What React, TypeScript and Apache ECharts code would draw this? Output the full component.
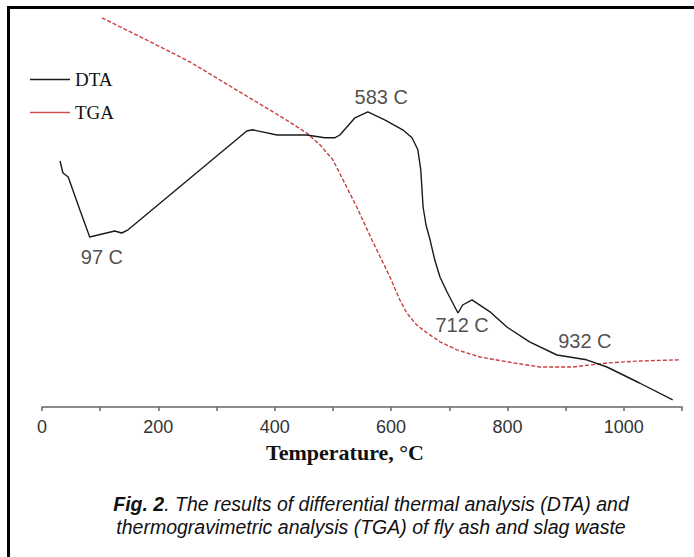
import React, { useEffect, useRef } from "react";
import * as echarts from "echarts";

// DTA curve (temperature °C, signal in arbitrary units)
const dtaTemp = [31, 36, 45, 65, 82, 125, 137, 148, 352, 362, 404, 455, 486, 503, 512, 524, 538, 560, 589, 620, 636, 646, 651, 655, 660, 667, 675, 684, 696, 706, 715, 723, 739, 770, 799, 838, 885, 936, 971, 1027, 1084];
const dtaSignal = [61.5, 58.5, 57.5, 49.3, 42.5, 44, 43.5, 44.3, 69, 69.3, 68, 68, 67.3, 67.3, 68, 70, 72.3, 73.8, 71.8, 69.3, 67.3, 64.3, 59.3, 50, 45.5, 41.8, 36.8, 32.5, 28.8, 26, 23.5, 25.5, 26.8, 23.8, 20, 16.3, 13, 11.8, 10, 6, 1.8];

// TGA curve (temperature °C, signal in arbitrary units)
const tgaTemp = [103, 186, 254, 328, 414, 455, 478, 500, 526, 541, 567, 598, 615, 627, 644, 662, 684, 713, 753, 799, 856, 912, 971, 1027, 1096];
const tgaSignal = [97.3, 91.3, 86.3, 79.8, 72.3, 68.5, 65.5, 61.8, 54.3, 50, 41.8, 32.5, 26.8, 23.5, 20.5, 18.5, 16.3, 14.3, 12.5, 11.3, 10, 10, 11, 11.5, 11.8];

// Peak annotations
const peakTemp = [103, 583, 722, 933];
const peakLabelY = [37.5, 77.5, 20.5, 16.5];
const peakLabels = ["97 C", "583 C", "712 C", "932 C"];

const xTicks = { min: 0, max: 1100, interval: 100 };

export default function App() {
  const ref = useRef<HTMLDivElement>(null);
  useEffect(() => {
    if (!ref.current) return;
    const chart = echarts.init(ref.current, null, { renderer: "svg" });
    const dta = dtaTemp.map((t, i) => [t, dtaSignal[i]]);
    const tga = tgaTemp.map((t, i) => [t, tgaSignal[i]]);
    const peaks = peakTemp.map((t, i) => [t, peakLabelY[i], peakLabels[i]]);
    chart.setOption({
      animation: false,
      backgroundColor: "#ffffff",
      grid: { left: 42, right: 12, top: 7, bottom: 150, containLabel: false },
      xAxis: {
        type: "value",
        min: xTicks.min,
        max: xTicks.max,
        interval: xTicks.interval,
        axisLine: { show: true, lineStyle: { color: "#666", width: 1.5 } },
        axisTick: { show: true, length: 4, inside: false, lineStyle: { color: "#666", width: 1.5 } },
        axisLabel: {
          margin: 11,
          fontFamily: "Liberation Sans",
          fontSize: 18,
          color: "#333",
          formatter: (v: number) => (v % 200 === 0 ? String(v) : ""),
        },
        splitLine: { show: false },
      },
      yAxis: {
        type: "value",
        min: 0,
        max: 100,
        show: false,
        splitLine: { show: false },
      },
      legend: {
        orient: "vertical",
        left: 30,
        top: 70,
        padding: 0,
        itemGap: 14,
        itemWidth: 40,
        itemHeight: 1.5,
        icon: "rect",
        textStyle: { fontFamily: "Liberation Serif", fontSize: 19, color: "#111" },
        data: ["DTA", "TGA"],
      },
      series: [
        {
          name: "DTA",
          type: "line",
          data: dta,
          showSymbol: false,
          smooth: false,
          itemStyle: { color: "#1a1a1a" },
          lineStyle: { color: "#1a1a1a", width: 1.4 },
          z: 3,
        },
        {
          name: "TGA",
          type: "line",
          data: tga,
          showSymbol: false,
          smooth: false,
          itemStyle: { color: "#d05050" },
          lineStyle: { color: "#c84040", width: 1.4, type: [4, 2] },
          z: 2,
        },
        {
          name: "peaks",
          type: "scatter",
          data: peaks,
          symbolSize: 0,
          silent: true,
          label: {
            show: true,
            position: "inside",
            formatter: (p: any) => p.value[2],
            fontFamily: "Liberation Sans",
            fontSize: 20,
            color: "#222",
          },
        },
      ],
      graphic: [
        { type: "line", shape: { x1: 8.5, y1: 6, x2: 8.5, y2: 557 }, style: { stroke: "#000", lineWidth: 3 } },
        { type: "line", shape: { x1: 7, y1: 7.5, x2: 694, y2: 7.5 }, style: { stroke: "#000", lineWidth: 3 } },
        {
          type: "text",
          x: 345,
          y: 452,
          style: {
            text: "Temperature, °C",
            align: "center",
            verticalAlign: "middle",
            fontFamily: "Liberation Serif",
            fontWeight: "bold",
            fontSize: 22,
            fill: "#111",
          },
        },
        {
          type: "text",
          x: 371,
          y: 504,
          style: {
            text: "{b|Fig. 2}. The results of differential thermal analysis (DTA) and",
            align: "center",
            verticalAlign: "middle",
            fontFamily: "Liberation Sans",
            fontStyle: "italic",
            fontSize: 19.5,
            fill: "#111",
            rich: {
              b: { fontFamily: "Liberation Sans", fontStyle: "italic", fontWeight: "bold", fontSize: 19.5, fill: "#111" },
            },
          },
        },
        {
          type: "text",
          x: 371,
          y: 527,
          style: {
            text: "thermogravimetric analysis (TGA) of fly ash and slag waste",
            align: "center",
            verticalAlign: "middle",
            fontFamily: "Liberation Sans",
            fontStyle: "italic",
            fontSize: 19.5,
            fill: "#111",
          },
        },
      ],
    });
    return () => chart.dispose();
  }, []);
  return (
    <div
      ref={ref}
      style={{ position: "fixed", left: 0, top: 0, width: 694, height: 557 }}
    />
  );
}
